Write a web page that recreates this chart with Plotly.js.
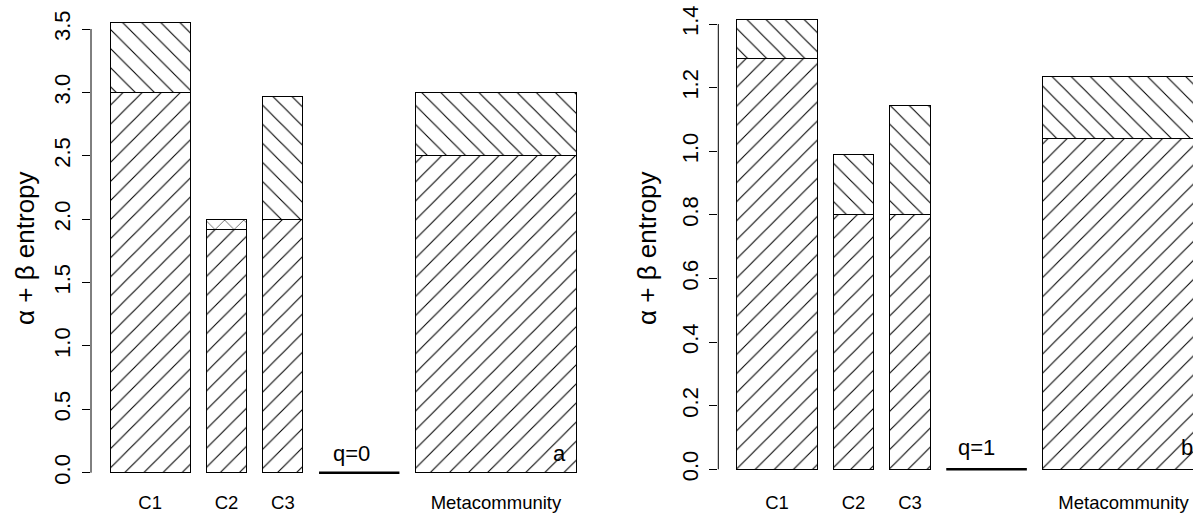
<!DOCTYPE html>
<html>
<head>
<meta charset="utf-8">
<script src="https://cdn.plot.ly/plotly-3.0.1.min.js"></script>
<style>
  html, body { margin: 0; padding: 0; background: #ffffff; }
  #chart { width: 1193px; height: 514px; }
</style>
</head>
<body>
<div id="chart"></div>
<script>
// ---------- data ----------
const categories = ['C1', 'C2', 'C3', 'Metacommunity'];
const alphaQ0 = [3.00, 1.92, 2.00, 2.50];
const betaQ0  = [0.55, 0.08, 0.97, 0.50];
const alphaQ1 = [1.29, 0.80, 0.80, 1.04];
const betaQ1  = [0.125, 0.19, 0.345, 0.195];
const yTicksQ0 = [0.0, 0.5, 1.0, 1.5, 2.0, 2.5, 3.0, 3.5];
const yTicksQ1 = [0.0, 0.2, 0.4, 0.6, 0.8, 1.0, 1.2, 1.4];
const qLabels = ['q=0', 'q=1'];
const panelLabels = ['a', 'b'];
const yTitle = 'α + β entropy';

// ---------- bar geometry (R barplot style: widths + space) ----------
const slotNames  = ['C1', 'C2', 'C3', 'q', 'Metacommunity'];
const slotWidths = [2, 1, 1, 2, 4];
const space = 0.4;
const slotLeft = [];
let acc = 0;
slotWidths.forEach((w, i) => { if (i > 0) acc += space; slotLeft.push(acc); acc += w; });
const slotCenter = slotLeft.map((l, i) => l + slotWidths[i] / 2);
const barIdx = categories.map(c => slotNames.indexOf(c));
const barX = barIdx.map(i => slotCenter[i]);
const barW = barIdx.map(i => slotWidths[i]);
const qIdx = slotNames.indexOf('q');
const qX = [slotLeft[qIdx], slotLeft[qIdx] + slotWidths[qIdx]];

const FONT = 'Liberation Sans, Arial, sans-serif';

function patternMarker(shapes) {
  return {
    color: '#ffffff',
    line: { color: '#000000', width: 1 },
    pattern: { shape: shapes, fgcolor: '#000000', bgcolor: '#ffffff', size: 13.5, solidity: 0.08, fillmode: 'replace' }
  };
}

function panelTraces(alpha, beta, xa, ya, betaShapes) {
  return [
    { type: 'bar', x: barX, y: alpha, width: barW, xaxis: xa, yaxis: ya,
      marker: patternMarker('/'), hoverinfo: 'skip', name: 'alpha' },
    { type: 'bar', x: barX, y: beta, width: barW, xaxis: xa, yaxis: ya,
      marker: patternMarker(betaShapes), hoverinfo: 'skip', name: 'beta' },
    { type: 'scatter', mode: 'lines', x: qX, y: [0, 0], xaxis: xa, yaxis: ya,
      line: { color: '#000000', width: 2.6 }, hoverinfo: 'skip', cliponaxis: false }
  ];
}

const data = [
  ...panelTraces(alphaQ0, betaQ0, 'x', 'y', ['\\', 'x', '\\', '\\']),
  ...panelTraces(alphaQ1, betaQ1, 'x2', 'y2', '\\')
];

const W = 1193, H = 514;
const yBottomPx = 486, yTopPx = 10;
const yDomain = [1 - yBottomPx / H, 1 - yTopPx / H];

function xAxis(domainPx, range) {
  return {
    domain: [domainPx[0] / W, domainPx[1] / W],
    range: range,
    showgrid: false, zeroline: false, showline: false,
    ticks: '', tickvals: barX, ticktext: categories,
    tickfont: { family: FONT, size: 18.5, color: '#000000' },
    ticklabelstandoff: 3,
    fixedrange: true
  };
}
function yAxis(range, ticks, anchor) {
  return {
    domain: yDomain,
    range: range,
    anchor: anchor,
    showgrid: false, zeroline: false, showline: false,
    ticks: 'outside', ticklen: 8, tickwidth: 1, tickcolor: '#000000',
    tickvals: ticks, ticktext: ticks.map(v => v.toFixed(1)),
    tickangle: -90,
    ticklabelstandoff: 3,
    tickfont: { family: FONT, size: 22, color: '#000000' },
    fixedrange: true
  };
}

const layout = {
  width: W, height: H,
  margin: { l: 0, r: 0, t: 0, b: 0, pad: 0 },
  paper_bgcolor: '#ffffff', plot_bgcolor: 'rgba(0,0,0,0)',
  showlegend: false,
  barmode: 'stack',
  bargap: 0,
  xaxis:  xAxis([91, 600], [(91 - 110) / 40.2, (600 - 110) / 40.2]),
  xaxis2: xAxis([718.3, 1193], [(718.3 - 736.7) / 40.3, (1193 - 736.7) / 40.3]),
  yaxis:  yAxis([-(yBottomPx - 472.7) / 126.77, (472.7 - yTopPx) / 126.77], yTicksQ0, 'x'),
  yaxis2: yAxis([-(yBottomPx - 469.3) / 318.07, (469.3 - yTopPx) / 318.07], yTicksQ1, 'x2'),
  shapes: [
    { type: 'line', xref: 'x domain', yref: 'y', x0: 0, x1: 0, y0: yTicksQ0[0], y1: yTicksQ0[yTicksQ0.length - 1],
      line: { color: '#000000', width: 1 } },
    { type: 'line', xref: 'x2 domain', yref: 'y2', x0: 0, x1: 0, y0: yTicksQ1[0], y1: yTicksQ1[yTicksQ1.length - 1],
      line: { color: '#000000', width: 1 } }
  ],
  annotations: [
    { xref: 'paper', yref: 'paper', x: 25 / W, y: 1 - 248 / H, text: yTitle, textangle: -90,
      showarrow: false, font: { family: FONT, size: 26, color: '#000000' }, xanchor: 'center', yanchor: 'middle' },
    { xref: 'paper', yref: 'paper', x: 647 / W, y: 1 - 248 / H, text: yTitle, textangle: -90,
      showarrow: false, font: { family: FONT, size: 26, color: '#000000' }, xanchor: 'center', yanchor: 'middle' },
    { xref: 'x', yref: 'y', x: slotCenter[qIdx] - 0.2, y: 0.155, text: qLabels[0], showarrow: false,
      font: { family: FONT, size: 22, color: '#000000' }, xanchor: 'center', yanchor: 'middle' },
    { xref: 'x2', yref: 'y2', x: slotCenter[qIdx] - 0.24, y: 0.067, text: qLabels[1], showarrow: false,
      font: { family: FONT, size: 22, color: '#000000' }, xanchor: 'center', yanchor: 'middle' },
    { xref: 'x', yref: 'y', x: 11.19, y: 0.155, text: panelLabels[0], showarrow: false,
      font: { family: FONT, size: 22, color: '#000000' }, xanchor: 'center', yanchor: 'middle' },
    { xref: 'x2', yref: 'y2', x: 11.17, y: 0.067, text: panelLabels[1], showarrow: false,
      font: { family: FONT, size: 22, color: '#000000' }, xanchor: 'center', yanchor: 'middle' }
  ]
};

Plotly.newPlot('chart', data, layout, { displayModeBar: false, staticPlot: true });
</script>
</body>
</html>
